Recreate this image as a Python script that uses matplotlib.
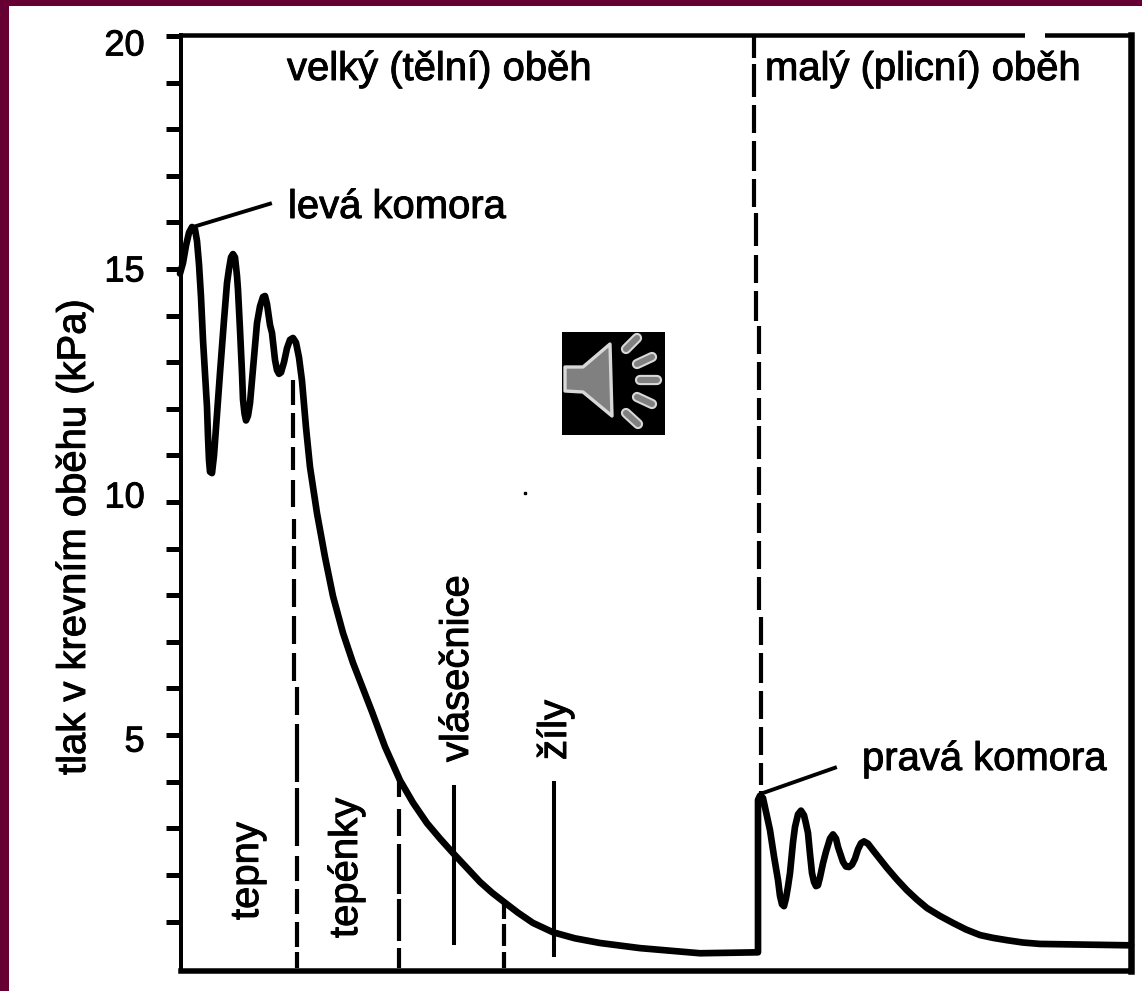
import matplotlib
matplotlib.use("Agg")
import matplotlib.pyplot as plt
from matplotlib.patches import Rectangle, Polygon
from matplotlib.transforms import Affine2D
import matplotlib.patheffects as pe

plt.rcParams['font.family'] = ['Liberation Sans', 'DejaVu Sans']
plt.rcParams['lines.scale_dashes'] = False

W, H = 1142, 991

# pressure curve: position along the circulation (arbitrary units) and pressure in kPa
position = [180, 183, 186, 189, 192, 195, 197, 199, 201, 203, 205, 207, 208, 209, 210, 212, 214, 217, 220, 224, 227, 229,
            231, 233, 235, 237, 238, 240, 242, 243, 244.5, 246, 248, 250, 254, 257, 260, 263, 265, 267, 270, 272, 275, 277,
            279, 281, 284, 287, 290, 293, 296, 299, 302, 306, 310, 317, 325, 333, 343, 353, 363, 372, 385, 400, 413,
            427, 440, 453, 467, 480, 492, 504, 518, 533, 553, 575, 600, 640, 700, 758,
            758, 760, 763, 766, 770, 774, 778, 780, 782, 784, 786, 788, 790, 793, 795, 798, 801, 804, 806, 808, 810, 812,
            814, 816, 818, 820, 823, 826, 830, 833, 836, 838, 840, 843, 846, 849, 852, 855, 858, 861, 864, 868, 873, 880,
            887, 897, 907, 917, 927, 940, 953, 966, 980, 993, 1007, 1023, 1040, 1131]
pressure = [14.9, 15.13, 15.5, 15.78, 15.9, 15.85, 15.6, 15.1, 14.4, 13.48, 12.75, 12.04, 11.4, 10.9, 10.65, 10.62, 11.0, 11.9,
            12.77, 13.9, 14.7, 15.0, 15.25, 15.32, 15.25, 14.85, 14.55, 13.7, 12.77, 12.2, 11.9, 11.75, 11.85, 12.12, 13.1,
            13.84, 14.2, 14.4, 14.42, 14.25, 13.8, 13.63, 13.05, 12.83, 12.75, 12.78, 13.0, 13.3, 13.48, 13.52, 13.42, 13.1,
            12.6, 11.6, 10.75, 9.76, 8.82, 7.98, 7.19, 6.55, 6.0, 5.5, 4.75, 4.03, 3.55, 3.11, 2.78, 2.47, 2.15, 1.85,
            1.62, 1.42, 1.19, 0.97, 0.77, 0.64, 0.54, 0.43, 0.32, 0.34,
            3.61, 3.7, 3.65, 3.35, 2.96, 2.4, 1.89, 1.55, 1.37, 1.33, 1.5, 1.75, 2.04, 2.7, 3.03, 3.3, 3.38, 3.28, 3.1, 2.9,
            2.45, 2.04, 1.85, 1.76, 1.78, 1.95, 2.25, 2.5, 2.78, 2.87, 2.78, 2.6, 2.47, 2.28, 2.18, 2.17, 2.22, 2.35, 2.55,
            2.68, 2.72, 2.67, 2.53, 2.34, 2.15, 1.9, 1.67, 1.47, 1.29, 1.12, 0.97, 0.83, 0.71, 0.65, 0.6, 0.55, 0.52, 0.49]

y_ticks = list(range(1, 21))
y_tick_labels = {5: "5", 10: "10", 15: "15", 20: "20"}

# region boundaries (hand-drawn: they drift slightly sideways)
arteries_x = [292.5, 292.5, 294.3, 294.3, 296.8, 296.8]
arteries_p = [12.62, 9.83, 9.83, 6.12, 6.12, 0.0]
arterioles_x = [399, 399]
arterioles_p = [4.05, 0.0]
capillary_end_x = [504, 504]
capillary_end_p = [1.38, 0.0]
circuit_x = [754.3, 754.3, 756, 756, 758.5, 758.5, 761.3, 761.3]
circuit_p = [20.0, 16.27, 16.27, 13.86, 13.86, 7.68, 7.68, 3.6]
solid_pos = [454, 554]
solid_top = [3.88, 3.97]
solid_bottom = [0.54, 0.28]

fig = plt.figure(figsize=(W / 100, H / 100), dpi=100, facecolor="#660033")
fig.patches.append(Rectangle((9 / W, 0), 1, 1 - 6 / H, transform=fig.transFigure, facecolor="white", edgecolor="none", zorder=-5))

ax = fig.add_axes([180.5 / W, 1 - 970.5 / H, (1131 - 180.5) / W, (970.5 - 34.5) / H])
ax.patch.set_alpha(0)
ax.set_xlim(180.5, 1131)
ax.set_ylim(-0.05, 20.03)

for s, lw in (("left", 4), ("top", 4.5), ("right", 6.5), ("bottom", 5.5)):
    ax.spines[s].set_linewidth(lw * 0.72)
ax.set_xticks([])
ax.set_yticks(y_ticks)
ax.set_yticklabels([y_tick_labels.get(v, "") for v in y_ticks], fontsize=26)
ax.tick_params(axis="y", length=10.8, width=3.6, pad=15)
fat = [pe.withStroke(linewidth=0.7, foreground="black")]
label_shift = {5: -3, 10: 8, 15: 1, 20: -6}
for v, t in zip(y_ticks, ax.get_yticklabels()):
    t.set_path_effects(fat)
    t.set_transform(t.get_transform() + Affine2D().translate(0, label_shift.get(v, 0)))

# pressure line
ax.plot(position, pressure, color="black", lw=4.8, solid_joinstyle="round", solid_capstyle="round", clip_on=False, zorder=4)

# region boundaries
def px_dash(*a):
    return tuple(v * 0.72 for v in a)
ax.plot(arteries_x, arteries_p, color="black", lw=3, dash_capstyle="butt", dash_joinstyle="miter", zorder=3,
        dashes=px_dash(25, 8, 25, 9, 23, 10, 27, 13, 20, 7, 23, 10, 28, 9, 28, 9, 28, 9, 28, 9, 58, 6, 58, 10, 25, 8, 25, 8, 25, 5, 22, 99))
ax.plot(arterioles_x, arterioles_p, color="black", lw=3, dash_capstyle="butt", zorder=3,
        dashes=px_dash(18, 12, 27, 8, 50, 5, 42, 7, 22, 99))
ax.plot(capillary_end_x, capillary_end_p, color="black", lw=3, dash_capstyle="butt", zorder=3,
        dashes=px_dash(15, 5, 22, 6, 22, 99))
ax.plot(circuit_x, circuit_p, color="black", lw=3, dash_capstyle="butt", zorder=3, dash_joinstyle="miter",
        dashes=px_dash(22, 6, 33, 8, 28, 8, 30, 8, 28, 8, 33, 9, 28, 8, 30, 8, 28, 8, 28, 8))
for x, t, b in zip(solid_pos, solid_top, solid_bottom):
    ax.plot([x, x], [b, t], color="black", lw=2.9, zorder=3)

# leaders
ax.plot([193, 270], [15.9, 16.4], color="black", lw=2.8, zorder=3)
ax.plot([762, 835], [3.75, 4.3], color="black", lw=2.8, zorder=3)
ax.plot([525], [10.2], marker="s", ms=1.5, color="black")

# gap in the top frame
fig.patches.append(Rectangle((1025 / W, 1 - 38 / H), 20 / W, 8 / H, transform=fig.transFigure, facecolor="white", edgecolor="none", zorder=5))

px = Affine2D().scale(1 / W, -1 / H).translate(0, 1) + fig.transFigure
def label(s, x, y, rot=0):
    fig.text(x, y, s, transform=px, fontsize=28.8, color="black", rotation=rot, ha="left", va="baseline",
             rotation_mode="anchor", path_effects=fat)

label("velký (tělní) oběh", 287, 80)
label("malý (plicní) oběh", 765, 80)
label("levá komora", 288, 218)
label("pravá komora", 862, 770)
label("tlak v krevním oběhu (kPa)", 85, 775, 90)
label("tepny", 258, 920, 90)
label("tepénky", 357, 938, 90)
label("vlásečnice", 468, 762, 90)
label("žíly", 566, 760, 90)

# speaker icon
fig.patches.append(Rectangle((562, 332), 103, 103, transform=px, facecolor="black", edgecolor="none", zorder=6))
fig.patches.append(Polygon([(565, 367), (583, 367), (610, 344), (612, 416), (583, 392), (565, 391)], closed=True, transform=px,
                           facecolor="#808080", edgecolor="#d8d8d8", lw=2.4, joinstyle="round", zorder=7))
for (x0, y0, x1, y1) in [(626, 349, 637, 338), (637, 364, 652, 357), (640, 380, 657, 380), (637, 397, 652, 404), (626, 413, 638, 424)]:
    fig.add_artist(plt.Line2D([x0, x1], [y0, y1], transform=px, color="#d8d8d8", lw=7.4, solid_capstyle="round", zorder=7))
    fig.add_artist(plt.Line2D([x0, x1], [y0, y1], transform=px, color="#808080", lw=4.4, solid_capstyle="round", zorder=8))

fig.savefig("out.png", dpi=100, facecolor=fig.get_facecolor())
